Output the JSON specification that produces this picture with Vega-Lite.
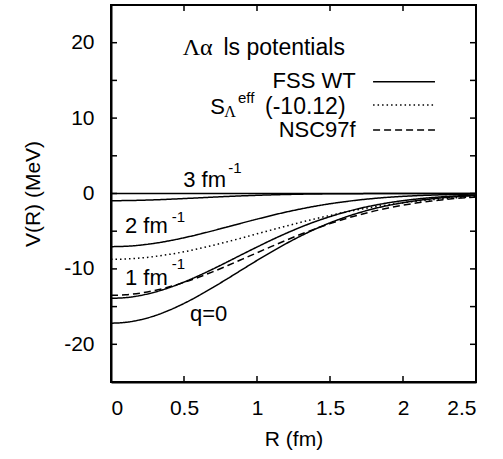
{
  "$schema": "https://vega.github.io/schema/vega-lite/v6.json",
  "width": 365,
  "height": 377,
  "autosize": {"type": "none"},
  "padding": {"left": 111, "top": 5, "right": 27, "bottom": 77},
  "background": "white",
  "config": {
    "view": {"stroke": "black", "strokeWidth": 2},
    "font": "Liberation Sans",
    "axis": {
      "grid": false, "domainColor": "black", "domainWidth": 2, "ticks": false,
      "labelFont": "Liberation Sans", "labelFontSize": 21, "labelColor": "black",
      "titleFont": "Liberation Sans", "titleFontSize": 21, "titleFontWeight": "normal", "titleColor": "black"
    }
  },
  "resolve": {"axis": {"x": "independent", "y": "independent"}},
  "datasets": {
    "curves": [
      {"R":0,"V":-17.2,"c":"q0","m":"FSS WT"},{"R":0.1,"V":-17.09,"c":"q0","m":"FSS WT"},{"R":0.2,"V":-16.75,"c":"q0","m":"FSS WT"},{"R":0.3,"V":-16.21,"c":"q0","m":"FSS WT"},{"R":0.4,"V":-15.47,"c":"q0","m":"FSS WT"},{"R":0.5,"V":-14.58,"c":"q0","m":"FSS WT"},{"R":0.6,"V":-13.56,"c":"q0","m":"FSS WT"},{"R":0.7,"V":-12.44,"c":"q0","m":"FSS WT"},{"R":0.8,"V":-11.27,"c":"q0","m":"FSS WT"},{"R":0.9,"V":-10.07,"c":"q0","m":"FSS WT"},{"R":1.0,"V":-8.88,"c":"q0","m":"FSS WT"},{"R":1.1,"V":-7.73,"c":"q0","m":"FSS WT"},{"R":1.2,"V":-6.64,"c":"q0","m":"FSS WT"},{"R":1.3,"V":-5.63,"c":"q0","m":"FSS WT"},{"R":1.4,"V":-4.71,"c":"q0","m":"FSS WT"},{"R":1.5,"V":-3.89,"c":"q0","m":"FSS WT"},{"R":1.6,"V":-3.17,"c":"q0","m":"FSS WT"},{"R":1.7,"V":-2.55,"c":"q0","m":"FSS WT"},{"R":1.8,"V":-2.02,"c":"q0","m":"FSS WT"},{"R":1.9,"V":-1.58,"c":"q0","m":"FSS WT"},{"R":2.0,"V":-1.22,"c":"q0","m":"FSS WT"},{"R":2.1,"V":-0.93,"c":"q0","m":"FSS WT"},{"R":2.2,"V":-0.70,"c":"q0","m":"FSS WT"},{"R":2.3,"V":-0.52,"c":"q0","m":"FSS WT"},{"R":2.4,"V":-0.38,"c":"q0","m":"FSS WT"},{"R":2.5,"V":-0.28,"c":"q0","m":"FSS WT"},
      {"R":0,"V":-13.9,"c":"q1","m":"FSS WT"},{"R":0.1,"V":-13.81,"c":"q1","m":"FSS WT"},{"R":0.2,"V":-13.53,"c":"q1","m":"FSS WT"},{"R":0.3,"V":-13.08,"c":"q1","m":"FSS WT"},{"R":0.4,"V":-12.48,"c":"q1","m":"FSS WT"},{"R":0.5,"V":-11.75,"c":"q1","m":"FSS WT"},{"R":0.6,"V":-10.91,"c":"q1","m":"FSS WT"},{"R":0.7,"V":-10.0,"c":"q1","m":"FSS WT"},{"R":0.8,"V":-9.04,"c":"q1","m":"FSS WT"},{"R":0.9,"V":-8.06,"c":"q1","m":"FSS WT"},{"R":1.0,"V":-7.10,"c":"q1","m":"FSS WT"},{"R":1.1,"V":-6.16,"c":"q1","m":"FSS WT"},{"R":1.2,"V":-5.28,"c":"q1","m":"FSS WT"},{"R":1.3,"V":-4.46,"c":"q1","m":"FSS WT"},{"R":1.4,"V":-3.72,"c":"q1","m":"FSS WT"},{"R":1.5,"V":-3.07,"c":"q1","m":"FSS WT"},{"R":1.6,"V":-2.49,"c":"q1","m":"FSS WT"},{"R":1.7,"V":-1.99,"c":"q1","m":"FSS WT"},{"R":1.8,"V":-1.58,"c":"q1","m":"FSS WT"},{"R":1.9,"V":-1.23,"c":"q1","m":"FSS WT"},{"R":2.0,"V":-0.95,"c":"q1","m":"FSS WT"},{"R":2.1,"V":-0.72,"c":"q1","m":"FSS WT"},{"R":2.2,"V":-0.54,"c":"q1","m":"FSS WT"},{"R":2.3,"V":-0.40,"c":"q1","m":"FSS WT"},{"R":2.4,"V":-0.29,"c":"q1","m":"FSS WT"},{"R":2.5,"V":-0.21,"c":"q1","m":"FSS WT"},
      {"R":0,"V":-7.05,"c":"q2","m":"FSS WT"},{"R":0.1,"V":-7.0,"c":"q2","m":"FSS WT"},{"R":0.2,"V":-6.85,"c":"q2","m":"FSS WT"},{"R":0.3,"V":-6.60,"c":"q2","m":"FSS WT"},{"R":0.4,"V":-6.27,"c":"q2","m":"FSS WT"},{"R":0.5,"V":-5.87,"c":"q2","m":"FSS WT"},{"R":0.6,"V":-5.42,"c":"q2","m":"FSS WT"},{"R":0.7,"V":-4.93,"c":"q2","m":"FSS WT"},{"R":0.8,"V":-4.42,"c":"q2","m":"FSS WT"},{"R":0.9,"V":-3.90,"c":"q2","m":"FSS WT"},{"R":1.0,"V":-3.40,"c":"q2","m":"FSS WT"},{"R":1.1,"V":-2.91,"c":"q2","m":"FSS WT"},{"R":1.2,"V":-2.46,"c":"q2","m":"FSS WT"},{"R":1.3,"V":-2.05,"c":"q2","m":"FSS WT"},{"R":1.4,"V":-1.68,"c":"q2","m":"FSS WT"},{"R":1.5,"V":-1.36,"c":"q2","m":"FSS WT"},{"R":1.6,"V":-1.09,"c":"q2","m":"FSS WT"},{"R":1.7,"V":-0.85,"c":"q2","m":"FSS WT"},{"R":1.8,"V":-0.66,"c":"q2","m":"FSS WT"},{"R":1.9,"V":-0.50,"c":"q2","m":"FSS WT"},{"R":2.0,"V":-0.38,"c":"q2","m":"FSS WT"},{"R":2.1,"V":-0.28,"c":"q2","m":"FSS WT"},{"R":2.2,"V":-0.21,"c":"q2","m":"FSS WT"},{"R":2.3,"V":-0.15,"c":"q2","m":"FSS WT"},{"R":2.4,"V":-0.10,"c":"q2","m":"FSS WT"},{"R":2.5,"V":-0.07,"c":"q2","m":"FSS WT"},
      {"R":0,"V":-0.95,"c":"q3","m":"FSS WT"},{"R":0.1,"V":-0.94,"c":"q3","m":"FSS WT"},{"R":0.2,"V":-0.90,"c":"q3","m":"FSS WT"},{"R":0.3,"V":-0.84,"c":"q3","m":"FSS WT"},{"R":0.4,"V":-0.76,"c":"q3","m":"FSS WT"},{"R":0.5,"V":-0.67,"c":"q3","m":"FSS WT"},{"R":0.6,"V":-0.58,"c":"q3","m":"FSS WT"},{"R":0.7,"V":-0.48,"c":"q3","m":"FSS WT"},{"R":0.8,"V":-0.39,"c":"q3","m":"FSS WT"},{"R":0.9,"V":-0.31,"c":"q3","m":"FSS WT"},{"R":1.0,"V":-0.24,"c":"q3","m":"FSS WT"},{"R":1.1,"V":-0.18,"c":"q3","m":"FSS WT"},{"R":1.2,"V":-0.13,"c":"q3","m":"FSS WT"},{"R":1.3,"V":-0.09,"c":"q3","m":"FSS WT"},{"R":1.4,"V":-0.06,"c":"q3","m":"FSS WT"},{"R":1.5,"V":-0.04,"c":"q3","m":"FSS WT"},{"R":1.6,"V":-0.03,"c":"q3","m":"FSS WT"},{"R":1.7,"V":-0.02,"c":"q3","m":"FSS WT"},{"R":1.8,"V":-0.01,"c":"q3","m":"FSS WT"},{"R":1.9,"V":-0.01,"c":"q3","m":"FSS WT"},{"R":2.0,"V":0,"c":"q3","m":"FSS WT"},{"R":2.5,"V":0,"c":"q3","m":"FSS WT"},
      {"R":0,"V":-8.73,"c":"seff","m":"S eff"},{"R":0.1,"V":-8.69,"c":"seff","m":"S eff"},{"R":0.2,"V":-8.56,"c":"seff","m":"S eff"},{"R":0.3,"V":-8.35,"c":"seff","m":"S eff"},{"R":0.4,"V":-8.07,"c":"seff","m":"S eff"},{"R":0.5,"V":-7.73,"c":"seff","m":"S eff"},{"R":0.6,"V":-7.32,"c":"seff","m":"S eff"},{"R":0.7,"V":-6.87,"c":"seff","m":"S eff"},{"R":0.8,"V":-6.38,"c":"seff","m":"S eff"},{"R":0.9,"V":-5.88,"c":"seff","m":"S eff"},{"R":1.0,"V":-5.35,"c":"seff","m":"S eff"},{"R":1.1,"V":-4.83,"c":"seff","m":"S eff"},{"R":1.2,"V":-4.32,"c":"seff","m":"S eff"},{"R":1.3,"V":-3.82,"c":"seff","m":"S eff"},{"R":1.4,"V":-3.35,"c":"seff","m":"S eff"},{"R":1.5,"V":-2.91,"c":"seff","m":"S eff"},{"R":1.6,"V":-2.50,"c":"seff","m":"S eff"},{"R":1.7,"V":-2.12,"c":"seff","m":"S eff"},{"R":1.8,"V":-1.79,"c":"seff","m":"S eff"},{"R":1.9,"V":-1.49,"c":"seff","m":"S eff"},{"R":2.0,"V":-1.23,"c":"seff","m":"S eff"},{"R":2.1,"V":-1.01,"c":"seff","m":"S eff"},{"R":2.2,"V":-0.82,"c":"seff","m":"S eff"},{"R":2.3,"V":-0.66,"c":"seff","m":"S eff"},{"R":2.4,"V":-0.52,"c":"seff","m":"S eff"},{"R":2.5,"V":-0.41,"c":"seff","m":"S eff"},
      {"R":0,"V":-13.5,"c":"nsc","m":"NSC97f"},{"R":0.1,"V":-13.43,"c":"nsc","m":"NSC97f"},{"R":0.2,"V":-13.21,"c":"nsc","m":"NSC97f"},{"R":0.3,"V":-12.86,"c":"nsc","m":"NSC97f"},{"R":0.4,"V":-12.38,"c":"nsc","m":"NSC97f"},{"R":0.5,"V":-11.79,"c":"nsc","m":"NSC97f"},{"R":0.6,"V":-11.11,"c":"nsc","m":"NSC97f"},{"R":0.7,"V":-10.36,"c":"nsc","m":"NSC97f"},{"R":0.8,"V":-9.55,"c":"nsc","m":"NSC97f"},{"R":0.9,"V":-8.71,"c":"nsc","m":"NSC97f"},{"R":1.0,"V":-7.86,"c":"nsc","m":"NSC97f"},{"R":1.1,"V":-7.02,"c":"nsc","m":"NSC97f"},{"R":1.2,"V":-6.20,"c":"nsc","m":"NSC97f"},{"R":1.3,"V":-5.41,"c":"nsc","m":"NSC97f"},{"R":1.4,"V":-4.68,"c":"nsc","m":"NSC97f"},{"R":1.5,"V":-4.0,"c":"nsc","m":"NSC97f"},{"R":1.6,"V":-3.38,"c":"nsc","m":"NSC97f"},{"R":1.7,"V":-2.83,"c":"nsc","m":"NSC97f"},{"R":1.8,"V":-2.34,"c":"nsc","m":"NSC97f"},{"R":1.9,"V":-1.92,"c":"nsc","m":"NSC97f"},{"R":2.0,"V":-1.55,"c":"nsc","m":"NSC97f"},{"R":2.1,"V":-1.24,"c":"nsc","m":"NSC97f"},{"R":2.2,"V":-0.99,"c":"nsc","m":"NSC97f"},{"R":2.3,"V":-0.77,"c":"nsc","m":"NSC97f"},{"R":2.4,"V":-0.60,"c":"nsc","m":"NSC97f"},{"R":2.5,"V":-0.46,"c":"nsc","m":"NSC97f"}
    ],
    "zero": [{"V": 0}],
    "xticks": [
      {"R": 0.5, "V": -25}, {"R": 1, "V": -25}, {"R": 1.5, "V": -25}, {"R": 2, "V": -25},
      {"R": 0.5, "V": 25}, {"R": 1, "V": 25}, {"R": 1.5, "V": 25}, {"R": 2, "V": 25}
    ],
    "yticks": [
      {"R": 0, "V": -20}, {"R": 0, "V": -15}, {"R": 0, "V": -10}, {"R": 0, "V": -5}, {"R": 0, "V": 0}, {"R": 0, "V": 5}, {"R": 0, "V": 10}, {"R": 0, "V": 15}, {"R": 0, "V": 20},
      {"R": 2.5, "V": -20}, {"R": 2.5, "V": -15}, {"R": 2.5, "V": -10}, {"R": 2.5, "V": -5}, {"R": 2.5, "V": 0}, {"R": 2.5, "V": 5}, {"R": 2.5, "V": 10}, {"R": 2.5, "V": 15}, {"R": 2.5, "V": 20}
    ],
    "legendLines": [
      {"m":"FSS WT","R":1.795,"R2":2.219,"V":14.83},
      {"m":"S eff","R":1.795,"R2":2.219,"V":11.74},
      {"m":"NSC97f","R":1.795,"R2":2.219,"V":8.42}
    ],
    "textLeft": [
      {"t":"S","R":0.68,"V":10.48},
      {"t":"3 fm","R":0.495,"V":0.90},
      {"t":"2 fm","R":0.096,"V":-5.28},
      {"t":"1 fm","R":0.096,"V":-12.14},
      {"t":"q=0","R":0.541,"V":-16.95}
    ],
    "textParen": [{"t":"(-10.12)","R":1.055,"V":10.48}],
    "textRight": [
      {"t":"FSS WT","R":1.676,"V":13.95},
      {"t":"NSC97f","R":1.676,"V":7.53}
    ],
    "titleSans": [{"t":"ls potentials","R":0.77,"V":18.37}],
    "titleSerif": [{"t":"Λα","R":0.491,"V":18.37}],
    "sup": [
      {"t":"-1","R":0.803,"V":2.77},
      {"t":"-1","R":0.416,"V":-3.8},
      {"t":"-1","R":0.416,"V":-10.05},
      {"t":"eff","R":0.87,"V":11.96}
    ],
    "sub": [{"t":"Λ","R":0.775,"V":10.19}]
  },
  "layer": [
    {
      "data": {"name": "curves"},
      "mark": {"type": "line", "color": "black", "strokeWidth": 1.5, "interpolate": "monotone"},
      "encoding": {
        "x": {"field": "R", "type": "quantitative", "scale": {"domain": [0, 2.5], "nice": false, "zero": false},
              "axis": {"orient": "bottom", "values": [0, 0.5, 1, 1.5, 2, 2.5], "labelExpr": "'' + datum.value", "title": "R (fm)", "labelPadding": 15, "titlePadding": 10}},
        "y": {"field": "V", "type": "quantitative", "scale": {"domain": [-25, 25], "nice": false, "zero": false},
              "axis": {"orient": "left", "values": [-20, -10, 0, 10, 20], "labelExpr": "'' + datum.value", "title": "V(R) (MeV)", "labelPadding": 17, "titlePadding": 20}},
        "detail": {"field": "c", "type": "nominal"},
        "strokeDash": {"field": "m", "type": "nominal", "scale": {"domain": ["FSS WT", "S eff", "NSC97f"], "range": [[1, 0], [1.5, 3], [7, 4]]}, "legend": null}
      }
    },
    {
      "data": {"name": "zero"},
      "mark": {"type": "rule", "color": "black", "strokeWidth": 1.5},
      "encoding": {
        "y": {"field": "V", "type": "quantitative", "axis": null}
      }
    },
    {
      "data": {"name": "xticks"},
      "mark": {"type": "tick", "orient": "vertical", "color": "black", "opacity": 1, "size": 12, "thickness": 1.5, "clip": true},
      "encoding": {
        "x": {"field": "R", "type": "quantitative", "axis": null},
        "y": {"field": "V", "type": "quantitative", "axis": null}
      }
    },
    {
      "data": {"name": "yticks"},
      "mark": {"type": "tick", "orient": "horizontal", "color": "black", "opacity": 1, "size": 12, "thickness": 1.5, "clip": true},
      "encoding": {
        "x": {"field": "R", "type": "quantitative", "axis": null},
        "y": {"field": "V", "type": "quantitative", "axis": null}
      }
    },
    {
      "data": {"name": "legendLines"},
      "mark": {"type": "rule", "color": "black", "strokeWidth": 1.5},
      "encoding": {
        "x": {"field": "R", "type": "quantitative", "axis": null},
        "x2": {"field": "R2"},
        "y": {"field": "V", "type": "quantitative", "axis": null},
        "strokeDash": {"field": "m", "type": "nominal", "legend": null}
      }
    },
    {
      "data": {"name": "textRight"},
      "mark": {"type": "text", "align": "right", "baseline": "alphabetic", "font": "Liberation Sans", "fontSize": 22, "color": "black"},
      "encoding": {
        "x": {"field": "R", "type": "quantitative", "axis": null},
        "y": {"field": "V", "type": "quantitative", "axis": null},
        "text": {"field": "t"}
      }
    },
    {
      "data": {"name": "textParen"},
      "mark": {"type": "text", "align": "left", "baseline": "alphabetic", "font": "Liberation Sans", "fontSize": 23, "color": "black"},
      "encoding": {
        "x": {"field": "R", "type": "quantitative", "axis": null},
        "y": {"field": "V", "type": "quantitative", "axis": null},
        "text": {"field": "t"}
      }
    },
    {
      "data": {"name": "textLeft"},
      "mark": {"type": "text", "align": "left", "baseline": "alphabetic", "font": "Liberation Sans", "fontSize": 22, "color": "black"},
      "encoding": {
        "x": {"field": "R", "type": "quantitative", "axis": null},
        "y": {"field": "V", "type": "quantitative", "axis": null},
        "text": {"field": "t"}
      }
    },
    {
      "data": {"name": "titleSans"},
      "mark": {"type": "text", "align": "left", "baseline": "alphabetic", "font": "Liberation Sans", "fontSize": 23, "color": "black"},
      "encoding": {
        "x": {"field": "R", "type": "quantitative", "axis": null},
        "y": {"field": "V", "type": "quantitative", "axis": null},
        "text": {"field": "t"}
      }
    },
    {
      "data": {"name": "titleSerif"},
      "mark": {"type": "text", "align": "left", "baseline": "alphabetic", "font": "Liberation Serif", "fontSize": 24, "color": "black"},
      "encoding": {
        "x": {"field": "R", "type": "quantitative", "axis": null},
        "y": {"field": "V", "type": "quantitative", "axis": null},
        "text": {"field": "t"}
      }
    },
    {
      "data": {"name": "sup"},
      "mark": {"type": "text", "align": "left", "baseline": "alphabetic", "font": "Liberation Sans", "fontSize": 15, "color": "black"},
      "encoding": {
        "x": {"field": "R", "type": "quantitative", "axis": null},
        "y": {"field": "V", "type": "quantitative", "axis": null},
        "text": {"field": "t"}
      }
    },
    {
      "data": {"name": "sub"},
      "mark": {"type": "text", "align": "left", "baseline": "alphabetic", "font": "Liberation Serif", "fontSize": 16, "color": "black"},
      "encoding": {
        "x": {"field": "R", "type": "quantitative", "axis": null},
        "y": {"field": "V", "type": "quantitative", "axis": null},
        "text": {"field": "t"}
      }
    }
  ]
}
